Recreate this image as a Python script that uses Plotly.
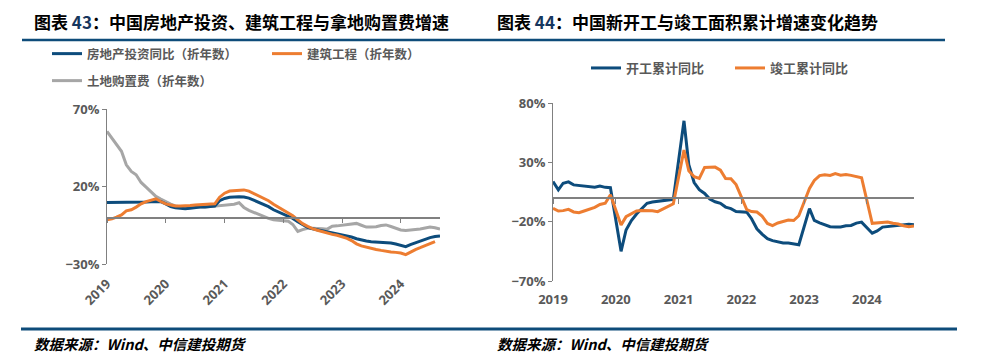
import pandas as pd
import plotly.graph_objects as go

# ---------------- data ----------------
# Left chart: monthly, Jan 2019 onwards (折年数 growth, %)
months_left = [d.strftime("%Y-%m-%d") for d in pd.date_range("2019-01-01", periods=69, freq="MS")]
re_invest = [9.7, 9.7, 9.8, 9.8, 9.9, 10.0, 9.8, 9.9, 10.0, 10.2,
             10.1, 10.3, 8.8, 7.1, 6.3, 5.8, 5.6, 6.0, 6.5, 6.7,
             6.8, 7.0, 7.4, 10.8, 12.3, 13.1, 13.3, 13.4, 13.2, 12.5,
             11.2, 9.8, 8.5, 7.0, 5.0, 3.6, 2.4, 1.2, -0.6, -2.8,
             -4.6, -6.3, -7.3, -8.0, -8.7, -9.4, -10.0, -10.6, -11.2, -11.8,
             -12.6, -13.7, -14.6, -15.2, -15.6, -15.8, -15.9, -15.9, -16.4, -17.1,
             -18.0, -18.8, -17.5, -16.3, -15.0, -14.0, -13.0, -12.3, -11.9]
construction = [-1.5, -0.9, 0.2, 1.7, 4.3, 5.0, 6.7, 8.8, 10.3, 11.4,
                12.1, 10.3, 8.8, 8.0, 7.5, 7.5, 7.5, 7.7, 8.0, 8.2,
                8.4, 8.6, 8.8, 13.1, 15.7, 17.1, 17.4, 17.7, 17.8, 17.0,
                15.5, 14.0, 12.6, 10.8, 8.5, 6.6, 4.8, 3.0, 1.2, -1.5,
                -4.0, -5.7, -7.2, -8.2, -9.2, -10.2, -10.9, -11.5, -12.4, -13.5,
                -14.9, -17.0, -18.3, -19.2, -19.8, -20.6, -21.2, -21.8, -22.2, -22.5,
                -22.9, -24.0, -22.3, -20.7, -19.5, -18.2, -16.8, -15.5]
land_purchase = [55.6, 51.3, 47.4, 42.7, 34.0, 29.7, 27.6, 22.6, 19.6, 16.4,
                 13.6, 11.9, 10.1, 8.6, 7.5, 7.1, 6.3, 6.7, 6.5, 6.7,
                 6.7, 7.0, 7.3, 7.8, 8.0, 8.3, 8.6, 9.5, 6.5, 4.6,
                 3.2, 2.0, 0.6, -0.6, -1.5, -1.8, -1.9, -2.4, -4.5, -9.0,
                 -7.8, -6.9, -6.9, -6.9, -7.3, -7.5, -5.6, -5.4, -5.0, -4.6,
                 -4.2, -3.8, -5.0, -6.2, -6.2, -6.0, -5.2, -4.8, -5.8, -6.7,
                 -8.0, -8.3, -8.1, -7.9, -7.4, -6.8, -6.2, -6.6, -7.4]

# Right chart: monthly cumulative YoY (%), Jan 2019 - Oct 2024 (January mostly not published)
months_right = [d.strftime("%Y-%m-%d") for d in pd.date_range("2019-01-01", periods=70, freq="MS")]
new_starts = [13.8, 6.8, 12.4, 13.5, 11.0, 10.5, 10.0, 9.0, 9.0, 10.0, 8.9, 8.6,
              None, -45.0, -27.0, -19.0, -13.5, -8.5, -4.5, -3.4, -3.0, -2.3, -1.7, -1.2,
              None, 65.0, 28.0, 13.0, 7.0, 3.8, -1.0, -3.2, -4.5, -7.7, -9.0, -11.4,
              None, -12.0, -17.5, -26.0, -30.5, -34.4, -36.0, -37.0, -38.0, -38.0, -39.0, -39.4,
              None, -9.0, -19.0, -21.0, -22.6, -24.3, -24.5, -24.4, -23.5, -23.2, -21.2, -20.4,
              None, -29.7, -27.8, -24.6, -24.2, -23.7, -23.2, -22.5, -22.2, -22.6]
completions = [-8.7, -11.0, -10.7, -9.6, -11.8, -12.4, -11.0, -9.6, -7.9, -5.5, -4.5, 2.6,
               None, -22.9, -15.8, -13.5, -11.0, -10.5, -10.5, -10.8, -11.6, -9.2, -7.3, -4.9,
               None, 40.4, 22.9, 17.9, 16.4, 25.7, 25.7, 26.0, 23.4, 16.3, 16.2, 11.2,
               None, -9.8, -11.5, -11.9, -15.3, -21.5, -23.3, -21.1, -19.9, -18.7, -19.0, -15.0,
               None, 8.0, 14.7, 18.8, 19.6, 19.0, 20.5, 19.2, 19.8, 19.0, 17.9, 17.0,
               None, -21.4, -21.0, -20.3, -20.3, -21.4, -22.0, -23.4, -24.2, -23.6]

left_names = ["房地产投资同比（折年数）", "建筑工程（折年数）", "土地购置费（折年数）"]
right_names = ["开工累计同比", "竣工累计同比"]
title_left = ("图表 ", "43", "：中国房地产投资、建筑工程与拿地购置费增速")
title_right = ("图表 ", "44", "：中国新开工与竣工面积累计增速变化趋势")
source_text = "数据来源：Wind、中信建投期货"

# ---------------- style ----------------
W, H = 987, 361
BLUE = "#0D4C7C"
ORANGE = "#ED7D31"
GRAY = "#A6A6A6"
AX = "#808080"
TXT = "#595959"
NAVY = "#0E4C7A"
CJK = "Noto Sans CJK SC"
NUM = "Open Sans"


def px(x):
    return x / W


def py(y):
    return 1 - y / H


fig = go.Figure()

# left traces (gray drawn first so it sits underneath)
fig.add_trace(go.Scatter(x=months_left, y=land_purchase, name=left_names[2], mode="lines",
                         line=dict(color=GRAY, width=3), xaxis="x", yaxis="y", legend="legend3"))
fig.add_trace(go.Scatter(x=months_left, y=re_invest, name=left_names[0], mode="lines",
                         line=dict(color=BLUE, width=3), xaxis="x", yaxis="y", legend="legend"))
fig.add_trace(go.Scatter(x=months_left[:len(construction)], y=construction, name=left_names[1], mode="lines",
                         line=dict(color=ORANGE, width=3), xaxis="x", yaxis="y", legend="legend"))

# right traces
fig.add_trace(go.Scatter(x=months_right, y=new_starts, name=right_names[0], mode="lines", connectgaps=True,
                         line=dict(color=BLUE, width=3), xaxis="x2", yaxis="y2", legend="legend2"))
fig.add_trace(go.Scatter(x=months_right, y=completions, name=right_names[1], mode="lines", connectgaps=True,
                         line=dict(color=ORANGE, width=3), xaxis="x2", yaxis="y2", legend="legend2"))

# dummy traces for the zero-line axes
fig.add_trace(go.Scatter(x=[months_left[0]], y=[None], xaxis="x3", yaxis="y", showlegend=False, hoverinfo="skip"))
fig.add_trace(go.Scatter(x=[months_right[0]], y=[None], xaxis="x4", yaxis="y2", showlegend=False, hoverinfo="skip"))

ly_range = [-30, 70]
ry_range = [-70, 80]
ly_dom = [py(264), py(109)]
ry_dom = [py(281), py(103)]
lx_range = [months_left[0], months_left[-1]]
rx_range = [months_right[0], months_right[-1]]


def zero_pos(dom, rng):
    return dom[0] + (0 - rng[0]) / (rng[1] - rng[0]) * (dom[1] - dom[0])


tickfont = dict(family=NUM, size=13, color=TXT, weight="bold")

common_x = dict(type="date", tickformat="%Y", dtick="M12", tick0="2019-01-01",
                showgrid=False, zeroline=False, showline=False, ticks="outside",
                tickcolor="rgba(0,0,0,0)", tickfont=tickfont, automargin=False)
common_y = dict(showgrid=False, zeroline=False, showline=True, linecolor=AX, linewidth=1,
                ticks="outside", ticklen=4, tickcolor=AX, ticksuffix="%", dtick=50, tickfont=tickfont,
                automargin=False)
zero_x = dict(type="date", dtick="M12", tick0="2019-01-01", showgrid=False, zeroline=False,
              showline=True, linecolor=AX, linewidth=1.5, ticks="outside", ticklen=5, tickcolor=AX,
              showticklabels=False, anchor="free", automargin=False)

fig.update_layout(
    width=W, height=H, autosize=False,
    margin=dict(l=0, r=0, t=0, b=0, pad=0, autoexpand=False),
    paper_bgcolor="white", plot_bgcolor="rgba(0,0,0,0)",
    xaxis=dict(common_x, domain=[px(107), px(440)], range=lx_range, anchor="y", tickangle=-45, ticklen=6),
    yaxis=dict(common_y, domain=ly_dom, range=ly_range, tick0=-30, anchor="x"),
    xaxis2=dict(common_x, domain=[px(553), px(914)], range=rx_range, anchor="y2", tickangle=0, ticklen=6),
    yaxis2=dict(common_y, domain=ry_dom, range=ry_range, tick0=-70, anchor="x2"),
    xaxis3=dict(zero_x, overlaying="x", range=lx_range, position=zero_pos(ly_dom, ly_range)),
    xaxis4=dict(zero_x, overlaying="x2", range=rx_range, position=zero_pos(ry_dom, ry_range)),
    legend=dict(orientation="h", x=px(47), xanchor="left", y=py(54), yanchor="middle",
                entrywidth=175, font=dict(family=CJK, size=12.5, color=TXT, weight="bold"),
                bgcolor="rgba(0,0,0,0)"),
    legend3=dict(orientation="h", x=px(47), xanchor="left", y=py(81), yanchor="middle",
                 font=dict(family=CJK, size=12.5, color=TXT, weight="bold"),
                 bgcolor="rgba(0,0,0,0)"),
    legend2=dict(orientation="h", x=px(586), xanchor="left", y=py(68), yanchor="middle",
                 entrywidth=99, font=dict(family=CJK, size=13, color=TXT, weight="bold"),
                 bgcolor="rgba(0,0,0,0)"),
    showlegend=True,
)

# titles
for (a, num, b), x0 in ((title_left, 32), (title_right, 495)):
    fig.add_annotation(text=f"{a}<span style='color:#17375E'>{num}</span>{b}",
                       xref="paper", yref="paper", x=px(x0), y=py(21), xanchor="left", yanchor="middle",
                       showarrow=False, font=dict(family=CJK, size=17, color="#000000", weight="bold"))

# sources
for x0 in (32, 495):
    fig.add_annotation(text=f"<i>{source_text}</i>", xref="paper", yref="paper", x=px(x0), y=py(343),
                       xanchor="left", yanchor="middle", showarrow=False,
                       font=dict(family=CJK, size=14.5, color="#000000", weight="bold"))

# header and footer rules
fig.add_shape(type="line", xref="paper", yref="paper", x0=px(22), x1=px(945), y0=py(40), y1=py(40),
              line=dict(color=NAVY, width=2.5))
fig.add_shape(type="line", xref="paper", yref="paper", x0=px(21), x1=px(957), y0=py(329), y1=py(329),
              line=dict(color=NAVY, width=3))

fig.write_html("out.html", config={"displayModeBar": False},
               post_script="document.body.style.margin='0';document.body.style.overflow='hidden';")
